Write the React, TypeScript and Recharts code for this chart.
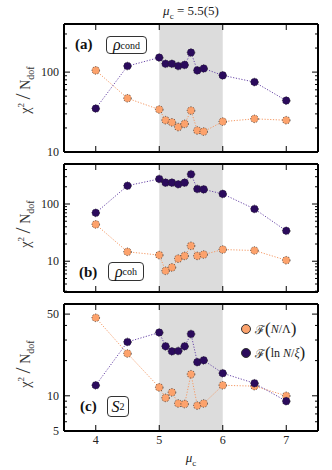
import { LineChart, Line, XAxis, YAxis, ReferenceArea } from 'recharts'

const MU = [4, 4.5, 5, 5.1, 5.2, 5.3, 5.4, 5.5, 5.6, 5.7, 6, 6.5, 7]

const condLambda = [105, 47, 34, 25, 23.5, 20.5, 22.5, 33, 18.6, 18, 24, 26, 25]
const condXi = [35, 119, 152, 127, 127, 119, 123, 176, 105, 111, 91, 75, 44]

const cohLambda = [44, 14.6, 12.8, 6.8, 7.8, 11.1, 12.4, 18.6, 12.4, 13.1, 16, 15.4, 10.4]
const cohXi = [70, 209, 274, 236, 236, 221, 236, 332, 183, 180, 150, 82, 34]

const s2Lambda = [46.5, 23, 11.8, 9.6, 10.7, 8.6, 8.5, 15.3, 8.25, 8.6, 12.3, 12.1, 10]
const s2Xi = [12.3, 28.9, 34.8, 26.5, 24, 24.2, 26.5, 33.8, 19.4, 20.1, 15.6, 12.8, 9]

const X_TICKS = [4, 5, 6, 7]
const Y_TICKS_A = [10, 20, 30, 40, 50, 60, 70, 80, 90, 100, 200, 300]
const Y_MAJOR_A = [10, 100]
const Y_TICKS_B = [3, 4, 5, 6, 7, 8, 9, 10, 20, 30, 40, 50, 60, 70, 80, 90, 100, 200, 300, 400]
const Y_MAJOR_B = [10, 100]
const Y_TICKS_C = [5, 6, 7, 8, 9, 10, 20, 30, 40, 50]
const Y_MAJOR_C = [5, 10, 50]

const ORANGE = '#fca26c'
const ORANGE_LINE = '#f59a66'
const PURPLE = '#2b0b5c'
const PURPLE_LINE = '#6a48a8'
const FONT = "'Liberation Serif', 'DejaVu Serif', serif"

const rows = (lam: number[], xi: number[]) => MU.map((mu, i) => ({ mu, lam: lam[i], xi: xi[i] }))

const LeftTick = (p: any) => {
  const { x, y, payload, major } = p
  const isMajor = major.includes(payload.value)
  return (
    <g>
      <line x1={x} x2={x + (isMajor ? 6 : 3)} y1={y} y2={y} stroke='#000' strokeWidth={1} />
      {isMajor && (
        <text x={x - 5} y={y} dy='0.35em' textAnchor='end' fontSize={12} fontFamily={FONT} fill='#222'>
          {payload.value}
        </text>
      )}
    </g>
  )
}

const RightTick = (p: any) => {
  const { x, y, payload, major } = p
  const isMajor = major.includes(payload.value)
  return <line x1={x} x2={x - (isMajor ? 6 : 3)} y1={y} y2={y} stroke='#000' strokeWidth={1} />
}

const BottomTick = (p: any) => {
  const { x, y, payload, labels } = p
  return (
    <g>
      <line x1={x} x2={x} y1={y} y2={y - 6} stroke='#000' strokeWidth={1} />
      {labels && (
        <text x={x} y={y + 13} textAnchor='middle' fontSize={12} fontFamily={FONT} fill='#222'>
          {payload.value}
        </text>
      )}
    </g>
  )
}

const TopTick = (p: any) => {
  const { x, y } = p
  return <line x1={x} x2={x} y1={y} y2={y + 6} stroke='#000' strokeWidth={1} />
}

type PanelProps = {
  top: number
  height: number
  margin: { top: number; bottom: number }
  data: { mu: number; lam: number; xi: number }[]
  domain: [number, number]
  ticks: number[]
  major: number[]
  xLabels?: boolean
}

const FRAME = { stroke: '#000', strokeWidth: 2 }

const Panel = ({ top, height, margin, data, domain, ticks, major, xLabels }: PanelProps) => (
  <div style={{ position: 'absolute', left: 0, top }}>
    <LineChart width={332} height={height} data={data} margin={{ top: margin.top - 1, bottom: margin.bottom - 1, left: 0, right: 13 }}>
      <XAxis
        dataKey='mu'
        type='number'
        domain={[3.5, 7.5]}
        ticks={X_TICKS}
        interval={0}
        height={1}
        tickSize={0}
        tickMargin={0}
        axisLine={FRAME}
        tickLine={false}
        tick={(p: any) => <BottomTick {...p} labels={xLabels} />}
      />
      <XAxis
        xAxisId='t'
        orientation='top'
        dataKey='mu'
        type='number'
        domain={[3.5, 7.5]}
        ticks={X_TICKS}
        interval={0}
        height={1}
        tickSize={0}
        tickMargin={0}
        axisLine={FRAME}
        tickLine={false}
        tick={(p: any) => <TopTick {...p} />}
      />
      <YAxis
        scale='log'
        domain={domain}
        allowDataOverflow
        ticks={ticks}
        interval={0}
        width={64}
        tickSize={0}
        tickMargin={0}
        axisLine={FRAME}
        tickLine={false}
        tick={(p: any) => <LeftTick {...p} major={major} />}
      />
      <YAxis
        yAxisId='r'
        orientation='right'
        scale='log'
        domain={domain}
        allowDataOverflow
        ticks={ticks}
        interval={0}
        width={1}
        tickSize={0}
        tickMargin={0}
        axisLine={FRAME}
        tickLine={false}
        tick={(p: any) => <RightTick {...p} major={major} />}
      />
      <ReferenceArea x1={5} x2={6} fill='#dcdcdc' fillOpacity={1} stroke='none' ifOverflow='hidden' />
      <Line
        dataKey='lam'
        name='lambda'
        type='linear'
        stroke={ORANGE_LINE}
        strokeWidth={1}
        strokeDasharray='1.2 1.6'
        dot={{ r: 3.8, fill: ORANGE, stroke: '#333', strokeWidth: 0.8 }}
        isAnimationActive={false}
      />
      <Line
        dataKey='xi'
        name='xi'
        type='linear'
        stroke={PURPLE_LINE}
        strokeWidth={1}
        strokeDasharray='1.2 1.6'
        dot={{ r: 3.8, fill: PURPLE, stroke: '#222', strokeWidth: 0.8 }}
        isAnimationActive={false}
      />
    </LineChart>
  </div>
)

const abs = (left: number, top: number, extra: any = {}) => ({ position: 'absolute' as const, left, top, ...extra })

const YLabel = ({ cy }: { cy: number }) => (
  <div
    style={abs(23, cy, {
      transform: 'translate(-50%, -50%) rotate(-90deg)',
      whiteSpace: 'nowrap',
      fontFamily: FONT,
      fontSize: 14,
      color: '#333',
    })}
  >
    χ<sup style={{ fontSize: 9 }}>2</sup> <span style={{ fontSize: 22, fontWeight: 300 }}>/</span> N<sub style={{ fontSize: 10 }}>dof</sub>
  </div>
)

const BoxLabel = ({ left, top, w, h, children }: any) => (
  <div
    style={abs(left, top, {
      width: w,
      height: h,
      boxSizing: 'border-box',
      border: '1px solid #333',
      borderRadius: 4,
      display: 'flex',
      alignItems: 'center',
      justifyContent: 'center',
      fontFamily: FONT,
      fontSize: 16,
      background: '#fff',
      color: '#111',
    })}
  >
    {children}
  </div>
)

const PanelTag = ({ left, cy, children }: any) => (
  <div style={abs(left, cy, { transform: 'translateY(-50%)', fontFamily: FONT, fontSize: 15, fontWeight: 'bold', color: '#111' })}>
    {children}
  </div>
)

const LegendRow = ({ color, cy, children }: any) => (
  <div style={abs(241, cy, { transform: 'translateY(-50%)', display: 'flex', alignItems: 'center', fontFamily: FONT, fontSize: 12, color: '#222', whiteSpace: 'nowrap' })}>
    <span style={{ width: 8, height: 8, borderRadius: 5, background: color, border: '0.8px solid #333', marginRight: 4 }} />
    {children}
  </div>
)

export default function App() {
  return (
    <div style={{ position: 'absolute', left: 0, top: 0, width: 332, height: 470, background: '#fff', overflow: 'hidden' }}>
      <Panel top={0} height={160} margin={{ top: 24, bottom: 8 }} data={rows(condLambda, condXi)} domain={[10, 400]} ticks={Y_TICKS_A} major={Y_MAJOR_A} />
      <Panel top={160} height={135} margin={{ top: 4, bottom: 3 }} data={rows(cohLambda, cohXi)} domain={[2.9, 500]} ticks={Y_TICKS_B} major={Y_MAJOR_B} />
      <Panel top={295} height={175} margin={{ top: 9, bottom: 39 }} data={rows(s2Lambda, s2Xi)} domain={[5, 61]} ticks={Y_TICKS_C} major={Y_MAJOR_C} xLabels />

      <div style={abs(191, 12, { transform: 'translate(-50%, -50%)', fontFamily: FONT, fontSize: 13, color: '#222', whiteSpace: 'nowrap' })}>
        <i>μ</i><sub style={{ fontSize: 9 }}>c</sub> = 5.5(5)
      </div>
      <div style={abs(191, 459, { transform: 'translate(-50%, -50%)', fontFamily: FONT, fontSize: 13, color: '#222' })}>
        <i>μ</i><sub style={{ fontSize: 9 }}>c</sub>
      </div>

      <YLabel cy={90} />
      <YLabel cy={224} />
      <YLabel cy={364} />

      <PanelTag left={75} cy={44}>(a)</PanelTag>
      <BoxLabel left={106} top={36} w={41} h={18}>
        <i>ρ</i><sub style={{ fontSize: 10 }}>cond</sub>
      </BoxLabel>
      <PanelTag left={79} cy={272}>(b)</PanelTag>
      <BoxLabel left={108} top={262} w={36} h={19}>
        <i>ρ</i><sub style={{ fontSize: 10 }}>coh</sub>
      </BoxLabel>
      <PanelTag left={80} cy={406}>(c)</PanelTag>
      <BoxLabel left={107} top={396} w={22} h={21}>
        <i>S</i><sub style={{ fontSize: 10 }}>2</sub>
      </BoxLabel>

      <LegendRow color={ORANGE} cy={329}>
        ℱ<span style={{ fontSize: 17 }}>(</span><i>N</i>/Λ<span style={{ fontSize: 17 }}>)</span>
      </LegendRow>
      <LegendRow color={PURPLE} cy={353}>
        ℱ<span style={{ fontSize: 17 }}>(</span>ln&nbsp;<i>N</i>/<i>ξ</i><span style={{ fontSize: 17 }}>)</span>
      </LegendRow>
    </div>
  )
}
